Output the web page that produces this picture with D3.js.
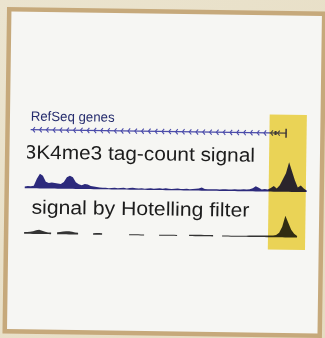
<!DOCTYPE html>
<html>
<head>
<meta charset="utf-8">
<script src="https://cdn.jsdelivr.net/npm/d3@7"></script>
<style>
  html, body { margin: 0; padding: 0; background: #e9e1ca; }
  svg { display: block; }
</style>
</head>
<body>
<svg id="chart" width="325" height="338"></svg>
<script>
// Genome-browser view: one gene, raw H3K4me3 tag counts and the
// Hotelling-filtered signal, with the promoter region highlighted.

// Window is split into bins 0..94
const binDomain = [0, 94];

const trackLabels = ["RefSeq genes", "H3K4me3 tag-count signal", "signal by Hotelling filter"];

// Raw tag counts per bin
const tagCounts = [
  1, 1.5, 1.5, 2, 9, 14, 12, 6, 5, 5.5,
  5, 4.5, 4, 6, 11, 12.5, 11, 6, 4, 3,
  4.5, 4, 2.5, 2, 1.5, 1, 0.8, 1, 0.6, 0.8,
  1.2, 0.7, 0.8, 1.2, 0.6, 1, 1.3, 0.8, 0.7, 1,
  0.6, 0.8, 1.1, 0.7, 0.9, 1.2, 0.8, 1.4, 0.9, 0.7,
  1, 1.2, 0.8, 0.9, 1.1, 0.7, 1, 1.3, 1.6, 2.5,
  1.2, 0.8, 1, 0.9, 1.1, 0.8, 1, 1.2, 0.9, 1,
  1.3, 1, 1.2, 1.5, 1.1, 1.4, 2.5, 4.5, 3, 1.5,
  2, 1.5, 3, 5, 2.5, 6, 12, 18, 29, 20,
  11, 4, 6, 3, 1
];

// Hotelling-filtered signal per bin (null = filtered out)
const hotelling = [
  1, 1.2, 1.5, 2, 3, 3.5, 2.5, 1.5, 1, 1,
  null, 1.2, 1.5, 2, 2.5, 2.5, 2, 1.2, 1, null,
  null, null, null, 0.8, 1, 1, 0.8, null, null, null,
  null, null, null, null, null, 0.4, 0.4, 0.4, 0.4, 0.3,
  0.3, null, null, null, null, 0.3, 0.3, 0.3, 0.3, 0.3,
  0.3, 0.3, null, null, null, 0.7, 0.7, 0.7, 0.7, 0.7,
  0.6, 0.6, 0.6, 0.6, null, null, 0.3, 0.3, 0.3, 0.3,
  0.3, 0.3, 0.3, 0.3, 0.3, 0.8, 0.8, 0.8, 0.8, 0.8,
  0.8, 1, 1, 1, 1.5, 4, 10, 21, 14, 7,
  3, 1, null, null, null
];

// Gene model (bins)
const geneSpan = [1.7, 87];
const geneExons = [[83, 83.7], [86.6, 87.1]];

// Highlighted promoter region (bins)
const highlight = [81.3, 93.7];

const svg = d3.select("#chart");
const W = 325, H = 338;

// background paper
const defs = svg.append("defs");
const bg = defs.append("linearGradient").attr("id", "paper").attr("x1", 0).attr("y1", 0).attr("x2", 1).attr("y2", 1);
bg.append("stop").attr("offset", 0).attr("stop-color", "#ebe4cf");
bg.append("stop").attr("offset", 1).attr("stop-color", "#e6dcc2");
svg.append("rect").attr("width", W).attr("height", H).attr("fill", "url(#paper)");

const root = svg.append("g").attr("transform", "rotate(0.8,163,170)");

// panel frame
root.append("rect")
  .attr("x", 7).attr("y", 11.5).attr("width", 315).attr("height", 322)
  .attr("fill", "#f6f6f3").attr("stroke", "#c6a97b").attr("stroke-width", 4.5);

const x = d3.scaleLinear().domain(binDomain).range([25, 307]);

// label clipping at panel's inner margin
const clipX = 27;
defs.append("clipPath").attr("id", "labelClip")
  .append("rect").attr("x", clipX).attr("y", 0).attr("width", 300).attr("height", H);

const labels = root.append("g").attr("clip-path", "url(#labelClip)")
  .style("font-family", "'Liberation Sans', Arial, sans-serif");

// stretch a label horizontally so its visible part spans [x0, x1]
function placeLabel(text, size, y, x0, x1, hiddenPrefix) {
  const t = labels.append("text").attr("x", 0).attr("y", y)
    .attr("font-size", size).attr("fill", "#1c1c1c").text(text);
  const full = t.node().getComputedTextLength();
  let hidden = 0;
  if (hiddenPrefix) {
    const probe = labels.append("text").attr("font-size", size).text(hiddenPrefix);
    hidden = probe.node().getComputedTextLength();
    probe.remove();
  }
  const k = (x1 - x0) / (full - hidden);
  t.attr("transform", `translate(${x0 - hidden * k},0) scale(${k},1)`);
  return t;
}

placeLabel(trackLabels[0], 13.5, 122.5, 30, 114).attr("fill", "#262d6e");
placeLabel(trackLabels[1], 19.5, 160.5, 24.5, 255, "H");
placeLabel(trackLabels[2], 19.5, 215.5, 32, 250);

// --- gene track ---
const geneY = 131.5;
const gene = root.append("g");
gene.append("line")
  .attr("x1", x(geneSpan[0])).attr("x2", x(geneSpan[1]))
  .attr("y1", geneY).attr("y2", geneY)
  .attr("stroke", "#4b4caa").attr("stroke-width", 1.3);
// strand chevrons (minus strand)
const chevrons = d3.range(x(geneSpan[0]) + 3, x(geneSpan[1]) - 4, 6.8);
gene.selectAll("path.chev").data(chevrons).join("path")
  .attr("class", "chev")
  .attr("d", d => `M${d + 1.3},${geneY - 2.6}L${d - 0.8},${geneY}L${d + 1.3},${geneY + 2.6}`)
  .attr("fill", "none").attr("stroke", "#4b4caa").attr("stroke-width", 1.1);
gene.selectAll("rect.exon").data(geneExons).join("rect")
  .attr("class", "exon")
  .attr("x", d => x(d[0])).attr("width", d => x(d[1]) - x(d[0]))
  .attr("y", (d, i) => i === 0 ? geneY - 2 : geneY - 4.5)
  .attr("height", (d, i) => i === 0 ? 4 : 9)
  .attr("fill", "#3f3f9a");

// --- tag-count track ---
const sigBase = 189.5;
const ySig = d3.scaleLinear().domain([0, 30]).range([sigBase, sigBase - 30]);
const sigArea = d3.area()
  .x((d, i) => x(i))
  .y0(sigBase + 0.6)
  .y1(d => ySig(d));
root.append("path").datum(tagCounts)
  .attr("d", sigArea).attr("fill", "#2c2a7c");

// --- Hotelling-filtered track ---
const hotBase = 235;
const yHot = d3.scaleLinear().domain([0, 22]).range([hotBase, hotBase - 22]);
const hotArea = d3.area()
  .defined(d => d !== null)
  .x((d, i) => x(i))
  .y0(hotBase + 0.7)
  .y1(d => yHot(d));
root.append("path").datum(hotelling)
  .attr("d", hotArea).attr("fill", "#333333");

// --- highlight box ---
root.append("rect")
  .attr("x", x(highlight[0])).attr("width", x(highlight[1]) - x(highlight[0]))
  .attr("y", 113).attr("height", 135)
  .attr("fill", "#f3db5a")
  .style("mix-blend-mode", "multiply");
</script>
</body>
</html>
